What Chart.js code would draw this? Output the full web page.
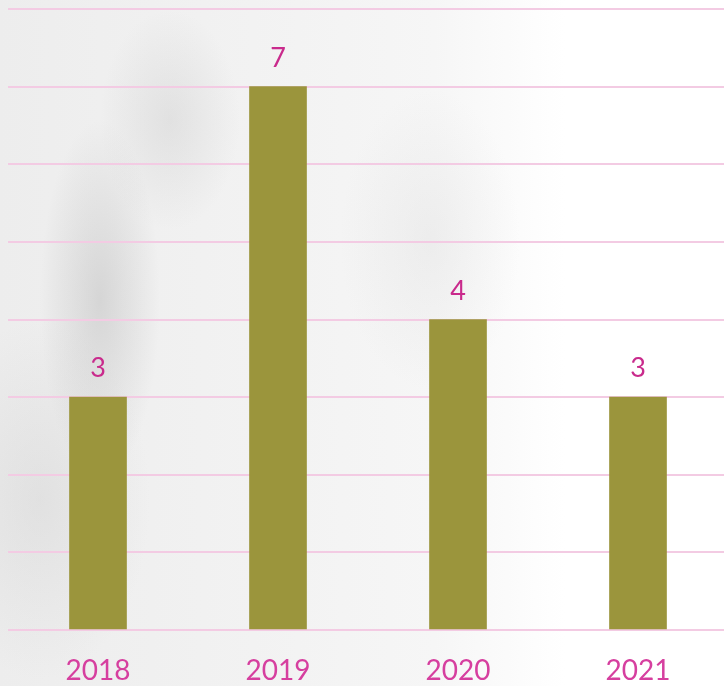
<!DOCTYPE html>
<html>
<head>
<meta charset="utf-8">
<script src="https://cdn.jsdelivr.net/npm/chart.js@4"></script>
<style>
  html, body { margin: 0; padding: 0; overflow: hidden; }
  body {
    width: 724px; height: 686px;
    background:
      radial-gradient(ellipse 60px 180px at 100px 300px, rgba(175,175,175,0.4), rgba(200,200,200,0) 100%),
      radial-gradient(ellipse 70px 110px at 170px 120px, rgba(190,190,190,0.3), rgba(200,200,200,0) 100%),
      radial-gradient(ellipse 110px 180px at 40px 500px, rgba(195,195,195,0.3), rgba(200,200,200,0) 100%),
      radial-gradient(ellipse 90px 150px at 430px 240px, rgba(215,215,215,0.3), rgba(200,200,200,0) 100%),
      linear-gradient(to right, #ededed 0%, #f2f2f2 35%, #f6f6f6 60%, #ffffff 78%, #ffffff 100%);
  }
</style>
</head>
<body>
<canvas id="chart" width="736" height="686"></canvas>
<script>
var years = ["2018", "2019", "2020", "2021"];
var counts = [3, 7, 4, 3];
var yTicks = [0, 1, 2, 3, 4, 5, 6, 7, 8];

// étiquettes de valeur au-dessus des barres
var valueLabels = {
    id: "valueLabels",
    afterDatasetsDraw: function (chart) {
        var ctx = chart.ctx;
        var meta = chart.getDatasetMeta(0);
        ctx.save();
        ctx.fillStyle = "#c92a8c";
        ctx.font = "27px Lato";
        ctx.textAlign = "center";
        ctx.textBaseline = "alphabetic";
        meta.data.forEach(function (bar, i) {
            ctx.fillText(counts[i], bar.x, bar.y - 20);
        });
        ctx.restore();
    }
};

document.addEventListener("DOMContentLoaded", function () {
    var ctx = document.getElementById("chart").getContext("2d");
    new Chart(ctx, {
        type: "bar",
        data: {
            labels: years,
            datasets: [{
                data: counts,
                backgroundColor: "#9b953c",
                barThickness: 57
            }]
        },
        options: {
            responsive: false,
            animation: false,
            layout: { padding: { top: 9, right: 8, left: 0, bottom: 0 } },
            plugins: { legend: { display: false }, tooltip: { enabled: false } },
            scales: {
                x: {
                    grid: { display: false },
                    border: { display: false },
                    ticks: { color: "#d63f9f", font: { family: "Lato", size: 28 }, padding: 16 },
                    afterFit: function (s) { s.height = 56; }
                },
                y: {
                    min: yTicks[0],
                    max: yTicks[yTicks.length - 1],
                    afterBuildTicks: function (s) { s.ticks = yTicks.map(function (v) { return { value: v }; }); },
                    grid: { color: "#f3cbe3", lineWidth: 2, drawTicks: false },
                    border: { display: false },
                    ticks: { display: false },
                    afterFit: function (s) { s.width = 8; }
                }
            }
        },
        plugins: [valueLabels]
    });
});
</script>
</body>
</html>
